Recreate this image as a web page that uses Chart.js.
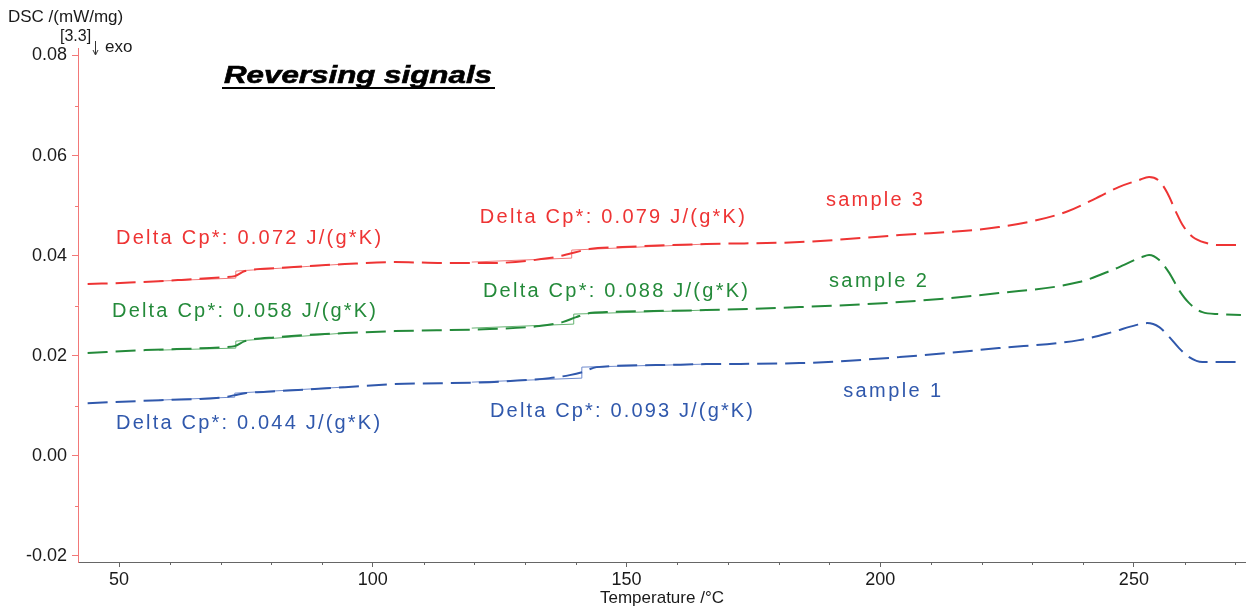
<!DOCTYPE html>
<html><head><meta charset="utf-8">
<script src="https://cdn.jsdelivr.net/npm/chart.js@4.4.0/dist/chart.umd.min.js"></script>
<style>html,body{margin:0;padding:0;background:#fff;}</style>
</head><body>
<canvas id="c" width="1258" height="610"></canvas>
<script>
// ---------- DATA ----------
const sample3T   = [43.8,52.1,61.6,70.8,72.8,74.8,81.3,94.5,104.3,114.5,123.0,134.8,137.8,142.7,149.2,165.7,184.1,203.8,223.4,236.6,242.6,247.0,251.0,253.0,255.0,256.6,258.4,259.6,261.6,264.3,266.8,270.8];
const sample3Dsc = [0.0343,0.0346,0.0351,0.0357,0.0359,0.0369,0.0375,0.0383,0.0387,0.0385,0.0385,0.0395,0.0401,0.0413,0.0417,0.0423,0.0427,0.0441,0.0457,0.0487,0.0515,0.0537,0.0551,0.0557,0.0549,0.0525,0.0485,0.0461,0.0437,0.0425,0.0421,0.0421];

const sample2T   = [43.8,55.1,70.8,72.8,74.8,81.3,94.5,104.3,123.0,132.8,137.4,140.1,142.7,146.1,165.7,184.1,203.8,223.4,239.2,245.7,251.6,253.0,255.0,257.0,258.9,260.9,263.5,266.8,271.1];
const sample2Dsc = [0.0205,0.0211,0.0217,0.0219,0.0229,0.0237,0.0245,0.0249,0.0253,0.0259,0.0267,0.0277,0.0285,0.0287,0.0291,0.0297,0.0307,0.0325,0.0347,0.0371,0.0397,0.0401,0.0391,0.0365,0.0331,0.0305,0.0287,0.0283,0.0281];

const sample1T   = [43.8,58.2,70.8,72.8,74.8,81.3,94.5,104.3,123.0,134.8,138.8,141.3,144.1,155.9,165.7,184.1,203.8,223.4,239.2,245.7,250.4,252.6,255.0,257.0,258.9,260.9,263.5,266.8,271.1];
const sample1Dsc = [0.0105,0.0111,0.0117,0.0121,0.0125,0.0129,0.0137,0.0143,0.0147,0.0155,0.0161,0.0167,0.0177,0.0181,0.0183,0.0185,0.0197,0.0215,0.0231,0.0247,0.0261,0.0265,0.0257,0.0237,0.0215,0.0197,0.0187,0.0187,0.0187];

// glass-transition construction lines (lower tangent, step, upper tangent)
const sample3Step1T = [57.9,73.0,73.0,94.3];   const sample3Step1Dsc = [0.0349,0.0355,0.0369,0.0383];
const sample3Step2T = [119.5,139.2,139.2,165.6]; const sample3Step2Dsc = [0.0387,0.0395,0.0411,0.0423];
const sample2Step1T = [57.9,73.0,73.0,94.3];   const sample2Step1Dsc = [0.0211,0.0215,0.0229,0.0245];
const sample2Step2T = [119.5,139.6,139.6,165.6]; const sample2Step2Dsc = [0.0255,0.0263,0.0283,0.0291];
const sample1Step1T = [57.9,72.8,72.8,94.3];   const sample1Step1Dsc = [0.0111,0.0117,0.0125,0.0137];
const sample1Step2T = [119.5,141.2,141.2,165.6]; const sample1Step2Dsc = [0.0147,0.0155,0.0177,0.0183];

const xTickValues  = [50,100,150,200,250];
const xMinorValues = [60,70,80,90,110,120,130,140,160,170,180,190,210,220,230,240,260,270];
const yTickValues  = [-0.02,0.00,0.02,0.04,0.06,0.08];
const yMinorValues = [-0.01,0.01,0.03,0.05,0.07];

const seriesNames = ['sample 1','sample 2','sample 3'];
const deltaCpTexts = [
  'Delta Cp*: 0.072 J/(g*K)', 'Delta Cp*: 0.079 J/(g*K)',
  'Delta Cp*: 0.058 J/(g*K)', 'Delta Cp*: 0.088 J/(g*K)',
  'Delta Cp*: 0.044 J/(g*K)', 'Delta Cp*: 0.093 J/(g*K)'
];

// ---------- STYLE / LAYOUT ----------
const RED = 'rgb(238,52,52)', GREEN = 'rgb(36,138,58)', BLUE = 'rgb(48,88,172)';
const RED_L = 'rgb(242,120,120)', GREEN_L = 'rgb(100,178,112)', BLUE_L = 'rgb(110,138,205)';
const FONT = "'Liberation Sans', Arial, sans-serif";

// annotation anchors in data coordinates (left edge, vertical centre)
const annotationLayout = [
  {text: deltaCpTexts[0], x: 49.4,  y: 0.0435, color: RED,   w: 265},
  {text: deltaCpTexts[1], x: 121.1, y: 0.0477, color: RED,   w: 265},
  {text: seriesNames[2],  x: 189.3, y: 0.0511, color: RED,   w: 97},
  {text: deltaCpTexts[2], x: 48.6,  y: 0.0289, color: GREEN, w: 264},
  {text: deltaCpTexts[3], x: 121.7, y: 0.0329, color: GREEN, w: 265},
  {text: seriesNames[1],  x: 189.9, y: 0.0349, color: GREEN, w: 98},
  {text: deltaCpTexts[4], x: 49.4,  y: 0.0065, color: BLUE,  w: 264},
  {text: deltaCpTexts[5], x: 123.1, y: 0.0089, color: BLUE,  w: 263},
  {text: seriesNames[0],  x: 192.7, y: 0.0129, color: BLUE,  w: 98}
];

const pts = (xs, ys) => xs.map((x, i) => ({x, y: ys[i]}));

function mainDs(label, xs, ys, color) {
  return {label, data: pts(xs, ys), borderColor: color, borderWidth: 2, borderDash: [20, 8],
          pointRadius: 0, fill: false, cubicInterpolationMode: 'monotone', order: 1};
}
function stepDs(xs, ys, color) {
  return {label: 'tangent', data: pts(xs, ys), borderColor: color, borderWidth: 1,
          pointRadius: 0, fill: false, tension: 0, order: 2};
}

function drawSpaced(ctx, text, x, y, width) {
  const chars = [...text];
  let natural = 0;
  chars.forEach(c => natural += ctx.measureText(c).width);
  const sp = chars.length > 1 ? (width - natural) / (chars.length - 1) : 0;
  let cx = x;
  chars.forEach(c => { ctx.fillText(c, cx, y); cx += ctx.measureText(c).width + sp; });
}

const decorPlugin = {
  id: 'decor',
  afterDraw(chart) {
    const ctx = chart.ctx, xs = chart.scales.x, ys = chart.scales.y, area = chart.chartArea;
    ctx.save();
    // minor ticks
    ctx.lineWidth = 1;
    ctx.strokeStyle = '#666';
    xMinorValues.forEach(v => {
      const px = Math.round(xs.getPixelForValue(v)) + 0.5;
      ctx.beginPath(); ctx.moveTo(px, area.bottom); ctx.lineTo(px, area.bottom + 3); ctx.stroke();
    });
    ctx.strokeStyle = RED_L;
    yMinorValues.forEach(v => {
      const py = Math.round(ys.getPixelForValue(v)) + 0.5;
      ctx.beginPath(); ctx.moveTo(area.left - 3, py); ctx.lineTo(area.left, py); ctx.stroke();
    });

    // axis titles
    ctx.fillStyle = '#1a1a1a';
    ctx.textBaseline = 'middle';
    ctx.textAlign = 'left';
    ctx.font = `17px ${FONT}`;
    ctx.fillText('DSC /(mW/mg)', 8, 17);
    ctx.fillText('Temperature /°C', 600, 598);
    ctx.font = `16px ${FONT}`;
    ctx.fillText('[3.3]', 60, 37);
    ctx.font = `17px ${FONT}`;
    ctx.fillText('exo', 105, 47);
    // exo arrow
    ctx.strokeStyle = '#333'; ctx.lineWidth = 1;
    ctx.beginPath(); ctx.moveTo(95.5, 41); ctx.lineTo(95.5, 54); ctx.stroke();
    ctx.beginPath(); ctx.moveTo(93, 50); ctx.lineTo(95.5, 55); ctx.lineTo(98, 50); ctx.stroke();

    // title
    ctx.font = `bold italic 24px ${FONT}`;
    ctx.fillStyle = '#000';
    const tw = ctx.measureText('Reversing signals').width;
    ctx.save();
    ctx.translate(224, 76);
    ctx.scale(268 / tw, 1);
    ctx.fillText('Reversing signals', 0, 0);
    ctx.lineWidth = 0.6; ctx.strokeStyle = '#000';
    ctx.strokeText('Reversing signals', 0, 0);
    ctx.restore();
    ctx.fillRect(222, 87, 273, 2);

    // annotations
    ctx.font = `20px ${FONT}`;
    annotationLayout.forEach(a => {
      ctx.fillStyle = a.color;
      drawSpaced(ctx, a.text, xs.getPixelForValue(a.x), ys.getPixelForValue(a.y), a.w);
    });
    ctx.restore();
  }
};

new Chart(document.getElementById('c'), {
  type: 'line',
  data: {
    datasets: [
      mainDs(seriesNames[2], sample3T, sample3Dsc, RED),
      mainDs(seriesNames[1], sample2T, sample2Dsc, GREEN),
      mainDs(seriesNames[0], sample1T, sample1Dsc, BLUE),
      stepDs(sample3Step1T, sample3Step1Dsc, RED_L),
      stepDs(sample3Step2T, sample3Step2Dsc, RED_L),
      stepDs(sample2Step1T, sample2Step1Dsc, GREEN_L),
      stepDs(sample2Step2T, sample2Step2Dsc, GREEN_L),
      stepDs(sample1Step1T, sample1Step1Dsc, BLUE_L),
      stepDs(sample1Step2T, sample1Step2Dsc, BLUE_L)
    ]
  },
  options: {
    responsive: false, animation: false, devicePixelRatio: 1,
    layout: {padding: {top: 48, right: 13, left: 0, bottom: 0}},
    plugins: {legend: {display: false}, tooltip: {enabled: false}},
    scales: {
      x: {
        type: 'linear', position: 'bottom', min: 41.9, max: 271.9,
        afterBuildTicks: s => { s.ticks = xTickValues.map(v => ({value: v})); },
        afterFit: s => { s.height = 48; },
        grid: {drawOnChartArea: false, drawTicks: true, tickLength: 5, tickColor: '#666'},
        border: {display: true, color: '#666', width: 1},
        ticks: {autoSkip: false, maxRotation: 0, padding: 2, color: '#1a1a1a',
                font: {family: FONT, size: 18}, callback: v => String(v)}
      },
      y: {
        type: 'linear', min: -0.02126, max: 0.0815,
        afterBuildTicks: s => { s.ticks = yTickValues.map(v => ({value: v})); },
        afterFit: s => { s.width = 78; },
        grid: {drawOnChartArea: false, drawTicks: true, tickLength: 6, tickColor: RED_L},
        border: {display: true, color: RED_L, width: 1},
        ticks: {autoSkip: false, padding: 5, color: '#1a1a1a',
                font: {family: FONT, size: 18}, callback: v => Number(v).toFixed(2)}
      }
    }
  },
  plugins: [decorPlugin]
});
</script>
</body></html>
